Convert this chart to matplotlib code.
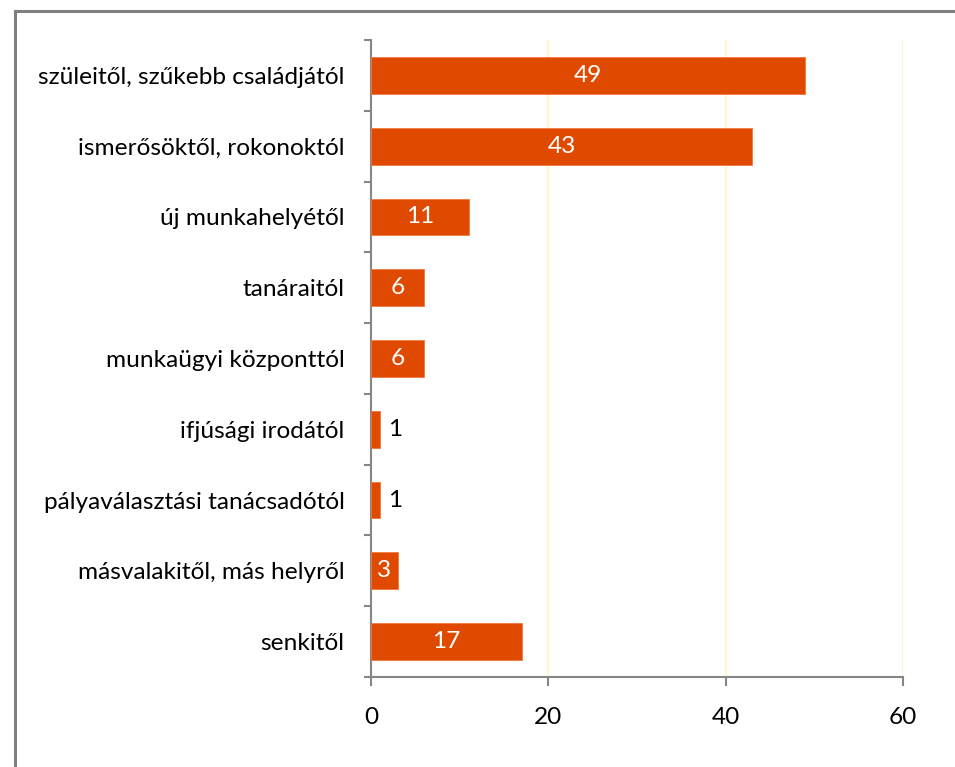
import numpy as np
import matplotlib
matplotlib.use('Agg')
from matplotlib import pyplot as plt
from matplotlib.lines import Line2D

# data
categories = ['szüleitől, szűkebb családjától', 'ismerősöktől, rokonoktól',
              'új munkahelyétől', 'tanáraitól', 'munkaügyi központtól',
              'ifjúsági irodától', 'pályaválasztási tanácsadótól',
              'másvalakitől, más helyről', 'senkitől']
values = [49, 43, 11, 6, 6, 1, 1, 3, 17]
x_ticks = [0, 20, 40, 60]

bar_color = '#E04A00'
axis_color = '#868686'
grid_color = '#FFF6CC'
fs = 17.6

plt.rcParams['font.family'] = ['Lato', 'DejaVu Sans']

fig = plt.figure(figsize=(9.55, 7.67), dpi=100)
ax = fig.add_axes([371/955, 1 - 677/767, (903-371)/955, (677-40)/767])

pos = np.arange(len(categories))
ax.barh(pos, values, height=0.52, color=bar_color, edgecolor='#F07A40', linewidth=0.6, zorder=3)

for p, v in zip(pos, values):
    if v >= 3:
        ax.text(v / 2, p, str(v), ha='center', va='center', color='white', fontsize=fs, zorder=4)
    else:
        ax.text(v + 0.9, p, str(v), ha='left', va='center', color='black', fontsize=fs, zorder=4)

ax.set_xlim(0, 60)
ax.set_ylim(len(categories) - 0.5, -0.5)
ax.set_xticks(x_ticks)
ax.set_xticklabels([str(t) for t in x_ticks])
ax.xaxis.grid(True, color=grid_color, linewidth=1.5, zorder=0)

# ticks at category boundaries, labels at centres
ax.set_yticks(np.arange(len(categories) + 1) - 0.5)
ax.set_yticklabels([])
ax.set_yticks(pos, minor=True)
ax.set_yticklabels(categories, minor=True)
ax.tick_params(axis='y', which='major', length=5, width=1.5, color=axis_color)
ax.tick_params(axis='y', which='minor', length=0, pad=19, labelsize=fs)
ax.tick_params(axis='x', length=6.5, width=1.5, color=axis_color, pad=15, labelsize=fs)

for s in ['top', 'right']:
    ax.spines[s].set_visible(False)
for s in ['left', 'bottom']:
    ax.spines[s].set_color(axis_color)
    ax.spines[s].set_linewidth(1.5)

# chart border, left and top only
bx = 15 / 955
by = 1 - 11 / 767
fig.add_artist(Line2D([bx, bx], [0, by], color='#808080', linewidth=2.2, transform=fig.transFigure))
fig.add_artist(Line2D([bx, 1], [by, by], color='#808080', linewidth=2.2, transform=fig.transFigure))

fig.savefig('out.png', dpi=100)
